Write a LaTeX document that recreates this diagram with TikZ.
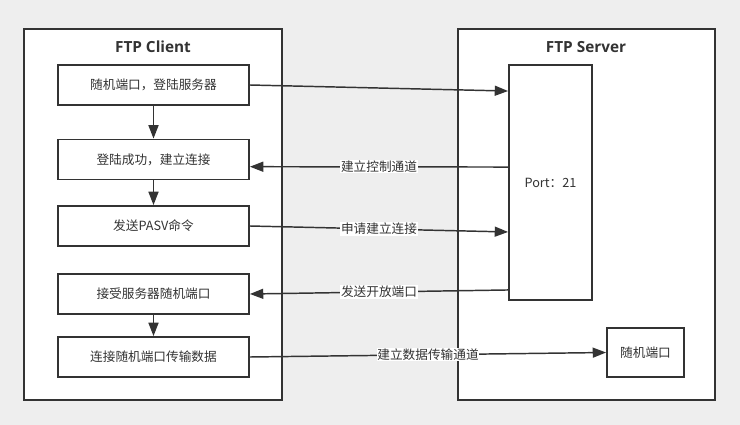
\documentclass[tikz,border=0pt]{standalone}
\usepackage{fontspec}
\setmainfont{Noto Sans CJK SC}
\newfontfamily\titlefont{Open Sans}
\usetikzlibrary{arrows.meta}
\definecolor{bgc}{HTML}{EEEEEE}
\definecolor{ink}{HTML}{333333}
\tikzset{
  frame/.style={draw=ink, line width=1.5pt, fill=white, rectangle},
  stepbox/.style={draw=ink, line width=1.4pt, fill=white, rectangle, minimum width=143.25pt, minimum height=30pt, font=\fontsize{9.5}{11}\selectfont, text=ink, inner sep=0pt},
  ttl/.style={font=\titlefont\bfseries\fontsize{11.5}{13}\selectfont, text=ink},
  arr/.style={draw=ink, line width=1.1pt, -{Triangle[length=10pt,width=7.5pt]}},
  lbl/.style={fill=white, inner sep=0.5pt, font=\fontsize{9.5}{11}\selectfont, text=ink}
}
\begin{document}
\begin{tikzpicture}[x=0.75pt,y=-0.75pt]
\fill[bgc] (0,0) rectangle (740,425);
\useasboundingbox (0,0) rectangle (740,425);
\node[frame, minimum width=193.5pt, minimum height=278.25pt] (client) at (153,214.5) {};
\node[frame, minimum width=192.75pt, minimum height=278.25pt] (server) at (586,214.5) {};
\node[ttl] (ctitle) at (153,47) {FTP Client};
\node[ttl] (stitle) at (586,47) {FTP Server};
\node[stepbox] (n1) at (153.5,85) {随机端口，登陆服务器};
\node[stepbox] (n2) at (153.5,159.5) {登陆成功，建立连接};
\node[stepbox] (n3) at (153.5,226) {发送PASV命令};
\node[stepbox] (n4) at (153.5,294) {接受服务器随机端口};
\node[stepbox] (n5) at (153.5,357) {连接随机端口传输数据};
\node[stepbox, minimum width=62.25pt, minimum height=176.25pt] (port) at (550.5,182.5) {Port：21};
\node[stepbox, minimum width=57.75pt, minimum height=36.75pt] (rp) at (645.5,352.5) {随机端口};
\draw[arr] (n1) -- (n2);
\draw[arr] (n2) -- (n3);
\draw[arr] (n4) -- (n5);
\draw[arr] (n1.east) -- ([yshift=68.6pt]port.west);
\draw[arr] ([yshift=11.6pt]port.west) -- node[lbl] {建立控制通道} ([yshift=-5.4pt]n2.east);
\draw[arr] (n3.east) -- node[lbl] {申请建立连接} ([yshift=-37.1pt]port.west);
\draw[arr] ([yshift=-80.6pt]port.west) -- node[lbl] {发送开放端口} (n4.east);
\draw[arr] (n5.east) -- node[lbl] {建立数据传输通道} (rp.west);
\end{tikzpicture}
\end{document}
